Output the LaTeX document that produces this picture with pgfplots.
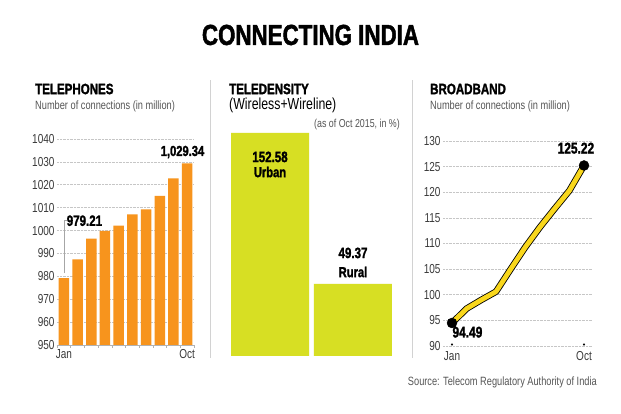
\documentclass[border=0pt]{standalone}
\usepackage{pgfplots}
\pgfplotsset{compat=1.18}
\usepackage{fontspec}
\setmainfont{Liberation Sans}[FakeStretch=0.77]
\newfontfamily\headfont{Liberation Sans}[FakeStretch=0.77, BoldFeatures={FakeBold=1.6}]
\definecolor{telorange}{HTML}{F7941D}
\definecolor{densgreen}{HTML}{D7DF23}
\definecolor{bbyellow}{HTML}{F9D71C}
\definecolor{txtgray}{HTML}{3A3A3A}
\definecolor{subgray}{HTML}{555555}
\pgfplotsset{
  panel/.style={
    anchor=south west, scale only axis, clip mode=individual,
    /pgf/number format/assume math mode=true,
    /pgf/number format/1000 sep={},
    ticklabel style={font=\fontsize{13}{13}\selectfont, text=txtgray},
    grid style={densely dotted, gray!45, line width=0.6pt},
  },
}
\begin{document}
\begin{tikzpicture}
\path[use as bounding box, fill=white] (0,0) rectangle (621pt,414pt);

% headline and panel heads
\node[font=\headfont\bfseries\fontsize{29}{30}\selectfont] at (310.5pt,379pt) {CONNECTING INDIA};
\node[anchor=west, inner sep=0, font=\headfont\bfseries\fontsize{15}{15}\selectfont] at (35pt,325pt) {TELEPHONES};
\node[anchor=west, inner sep=0, font=\fontsize{12}{12}\selectfont, text=subgray] at (35pt,308pt) {Number of connections (in million)};
\node[anchor=west, inner sep=0, font=\headfont\bfseries\fontsize{15}{15}\selectfont] at (229pt,325pt) {TELEDENSITY};
\node[anchor=west, inner sep=0, font=\fontsize{16}{16}\selectfont] at (229pt,309pt) {(Wireless+Wireline)};
\node[anchor=east, inner sep=0, font=\fontsize{11.5}{12}\selectfont, text=subgray] at (400pt,289pt) {(as of Oct 2015, in \%)};
\node[anchor=west, inner sep=0, font=\headfont\bfseries\fontsize{15}{15}\selectfont] at (430pt,325pt) {BROADBAND};
\node[anchor=west, inner sep=0, font=\fontsize{12}{12}\selectfont, text=subgray] at (430pt,308pt) {Number of connections (in million)};
\node[anchor=east, inner sep=0, font=\fontsize{12}{12}\selectfont, text=subgray] at (597pt,32pt) {Source: Telecom Regulatory Authority of India};

% separators
\draw[gray!35, line width=0.8pt] (210pt,56pt) -- (210pt,334pt);
\draw[gray!35, line width=0.8pt] (412pt,56pt) -- (412pt,334pt);

% telephones
\begin{axis}[panel, at={(57pt,69pt)}, width=137pt, height=206pt,
  xmin=0.5, xmax=10.5, ymin=950, ymax=1040,
  ytick={950,960,...,1040}, ymajorgrids,
  xtick={1,10}, xticklabels={Jan,Oct},
  minor xtick={0.5,1.5,...,10.5},
  axis lines*=left, y axis line style={draw=none},
  x axis line style={gray!60, line width=0.6pt},
  major tick length=0pt, minor tick length=3pt, xtick align=outside,
  minor tick style={gray!60, line width=0.6pt},
  yticklabel style={xshift=1pt},
  xticklabel style={yshift=-1pt}]
\addplot[ybar, bar width=10.5pt, fill=telorange, draw=none] coordinates {
  (1,979.21) (2,987.4) (3,996.5) (4,999.9) (5,1002.1)
  (6,1007.1) (7,1009.3) (8,1015.1) (9,1022.8) (10,1029.34)};
\draw[gray!70, line width=0.6pt] (axis cs:1,981.3) -- (axis cs:1,1004.3) -- (axis cs:1.25,1004.3);
\node[anchor=west, inner sep=0, font=\headfont\bfseries\fontsize{15}{15}\selectfont] at (axis cs:1.2,1004.3) {979.21};
\node[inner sep=0, font=\headfont\bfseries\fontsize{14.5}{15}\selectfont] at (axis cs:9.66,1034.3) {1,029.34};
\end{axis}

% teledensity
\begin{axis}[panel, at={(231pt,58pt)}, width=161pt, height=223pt,
  xmin=0.53, xmax=2.47, ymin=0, ymax=152.58, hide axis]
\addplot[ybar, bar width=78pt, fill=densgreen, draw=none] coordinates {(1,152.58) (2,49.37)};
\node[font=\headfont\bfseries\fontsize{15}{15}\selectfont, inner sep=0] at (axis cs:1,136.2) {152.58};
\node[font=\headfont\bfseries\fontsize{14.5}{15}\selectfont, inner sep=0] at (axis cs:1,125.9) {Urban};
\node[font=\headfont\bfseries\fontsize{15}{15}\selectfont, inner sep=0] at (axis cs:2,70.5) {49.37};
\node[font=\headfont\bfseries\fontsize{14.5}{15}\selectfont, inner sep=0] at (axis cs:2,57.5) {Rural};
\end{axis}

% broadband
\begin{axis}[panel, at={(443pt,68pt)}, width=149pt, height=205pt,
  xmin=0.386, xmax=10.545, ymin=90, ymax=130,
  ytick={90,95,...,130}, ymajorgrids,
  xtick={1,10}, xticklabels={Jan,Oct},
  axis line style={draw=none}, major tick length=0pt,
  yticklabel style={xshift=1pt},
  xticklabel style={yshift=-2pt}]
\addplot[black, line width=6.5pt, line join=round, line cap=round] coordinates {
  (1,94.49) (2,97.3) (3,99.0) (4,100.6) (5,105.0)
  (6,109.3) (7,113.2) (8,116.8) (9,120.3) (10,125.22)};
\addplot[bbyellow, line width=4.8pt, line join=round, line cap=round] coordinates {
  (1,94.49) (2,97.3) (3,99.0) (4,100.6) (5,105.0)
  (6,109.3) (7,113.2) (8,116.8) (9,120.3) (10,125.22)};
\addplot[only marks, mark=*, mark size=5pt, black] coordinates {(1,94.49) (10,125.22)};
\addplot[only marks, mark=*, mark size=0.9pt, black] coordinates {(1,90.3) (10,90.3)};
\node[inner sep=0, font=\headfont\bfseries\fontsize{15.5}{16}\selectfont] at (axis cs:2.05,92.7) {94.49};
\node[inner sep=0, font=\headfont\bfseries\fontsize{15.5}{16}\selectfont] at (axis cs:9.45,128.6) {125.22};
\end{axis}
\end{tikzpicture}
\end{document}
